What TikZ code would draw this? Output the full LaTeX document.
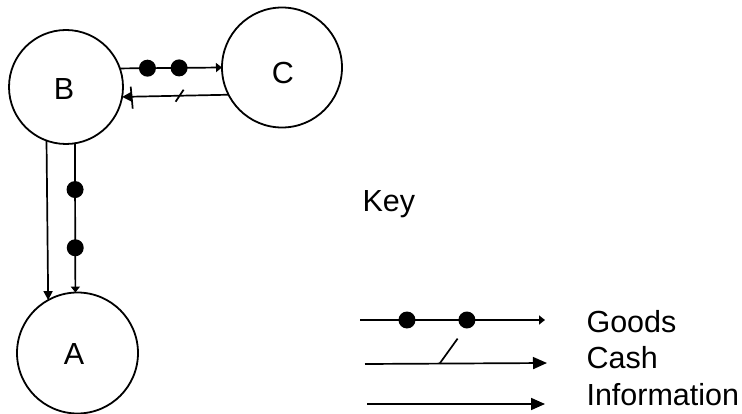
\documentclass[tikz,border=0pt]{standalone}
\usepackage{fontspec}
\setmainfont{Liberation Sans}
\usetikzlibrary{arrows.meta}
\begin{document}
\begin{tikzpicture}[x=1pt,y=-1pt,
  txt/.style={font=\fontsize{30.5}{36}\selectfont},
  actor/.style={circle,draw,line width=1.8pt,inner sep=0pt,outer sep=0pt},
  flow/.style={line width=1.7pt},
  keyinfo/.style={flow,-{Triangle[length=14pt,width=12pt]}},
  info/.style={flow,-{Triangle[length=9pt,width=9pt]}},
  goodsarrow/.style={flow,-{Triangle[length=6pt,width=9pt]}},
  dot/.style={circle,fill,inner sep=0pt,minimum size=17pt},
  keytext/.style={txt,anchor=base west}]
\useasboundingbox (0,0) rectangle (742,414);

% actors
\node[actor,minimum size=114pt,label={[txt,name=Bt,xshift=-2pt,yshift=-2pt]center:B}] (B) at (66,87) {};
\node[actor,minimum size=120pt,label={[txt,name=Ct,xshift=1pt,yshift=-6pt]center:C}] (C) at (282,67.5) {};
\node[actor,minimum size=121pt,label={[txt,name=At,xshift=-3.5pt,yshift=-1pt]center:A}] (A) at (77.5,353) {};

% B -> C goods
\draw[goodsarrow] (B.19.5) -- node[dot,pos=0.27] (bc1) {} node[dot,pos=0.58] (bc2) {} (C.180);
% C -> B cash
\draw[info] (C.207.3) -- coordinate[pos=0.46] (cs1) coordinate[pos=0.91] (cs2) (B.350);
\draw[flow] (cs1) ++(-4,6) -- ++(8,-12);
\draw[flow] (cs2) ++(-1,-10) -- ++(2,22);

% B -> A information
\draw[info] (B.250.5) -- (A.119.7);
% B -> A goods
\draw[goodsarrow] (B.279.1) -- node[dot,pos=0.31] (ba1) {} node[dot,pos=0.70] (ba2) {} (A.92.4);

% key
\node[keytext] (key) at (359,212) {Key};
\coordinate (g0) at (360,320);
\coordinate (g1) at (545,320);
\draw[goodsarrow] (g0) -- node[dot,pos=0.254] (kd1) {} node[dot,pos=0.578] (kd2) {} (g1);
\coordinate (c0) at (365,364);
\coordinate (c1) at (547,363);
\draw[keyinfo] (c0) -- coordinate[pos=0.41] (cs3) (c1);
\draw[flow] (cs3) -- ++(18,-25);
\coordinate (i0) at (367,404);
\coordinate (i1) at (545,404);
\draw[keyinfo] (i0) -- (i1);

\node[keytext] (goods) at (583,332) {Goods};
\node[keytext] (cash) at (583,368.5) {Cash};
\node[keytext] (information) at (583,405) {Information};
\end{tikzpicture}
\end{document}
